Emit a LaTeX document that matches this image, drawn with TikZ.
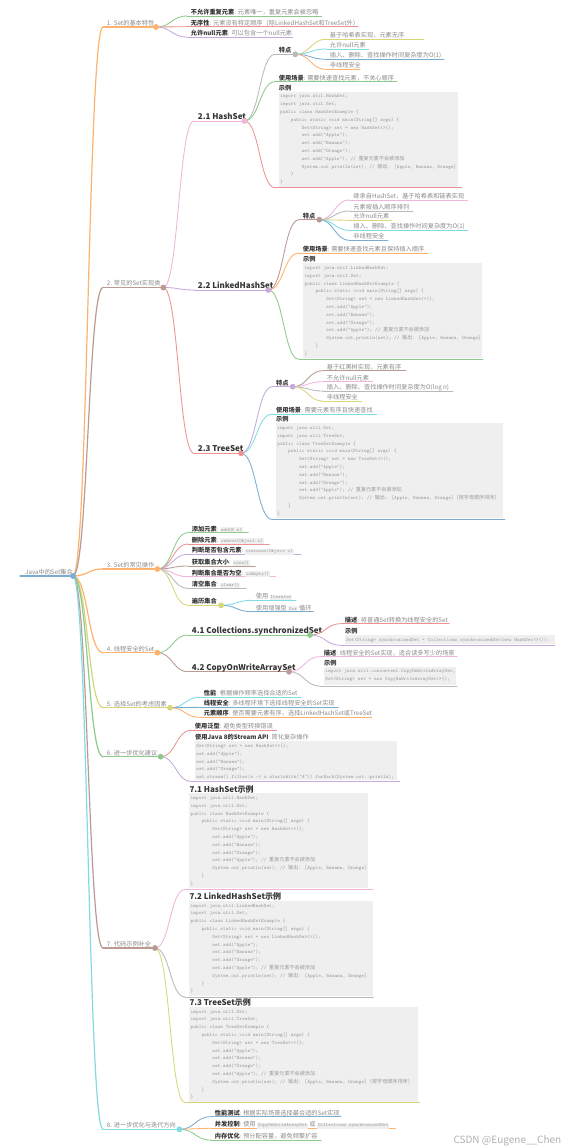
\documentclass[tikz,border=0pt]{standalone}
\usepackage{fontspec}
\setmainfont{Noto Sans CJK SC}
\newfontfamily\cjk{Noto Sans CJK SC}
\usetikzlibrary{calc}
\definecolor{dblue}{HTML}{1F77B4}
\definecolor{dorange}{HTML}{FF7F0E}
\definecolor{dgreen}{HTML}{2CA02C}
\definecolor{dred}{HTML}{D62728}
\definecolor{dpurple}{HTML}{9467BD}
\definecolor{dbrown}{HTML}{8C564B}
\definecolor{dpink}{HTML}{E377C2}
\definecolor{dgray}{HTML}{7F7F7F}
\definecolor{dolive}{HTML}{BCBD22}
\definecolor{dcyan}{HTML}{17BECF}
\colorlet{Cblue}{dblue!60}
\colorlet{Corange}{dorange!60}
\colorlet{Cgreen}{dgreen!55}
\colorlet{Cred}{dred!50}
\colorlet{Cpurple}{dpurple!55}
\colorlet{Cbrown}{dbrown!60}
\colorlet{Cpink}{dpink!55}
\colorlet{Cgray}{dgray!55}
\colorlet{Colive}{dolive!60}
\colorlet{Ccyan}{dcyan!55}
\definecolor{txt}{HTML}{8A8A8A}
\definecolor{txtd}{HTML}{333333}
\definecolor{codebg}{HTML}{EFEFEF}
\definecolor{codetx}{HTML}{9A9A9A}
\definecolor{wmcol}{HTML}{B0B0B0}
\newcommand\codefont{\ttfamily\fontsize{5.1}{7.8}\selectfont}
\newcommand\bl[1]{{\bfseries\color{txtd}#1}}
\newcommand\hd[1]{{\fontsize{8}{9}\selectfont\bfseries\color{txtd}#1}}
\newcommand\zh[1]{{\cjk #1}}
\newcommand\ic[1]{{\setlength\fboxsep{0.8pt}\colorbox{codebg}{\ttfamily\fontsize{4.9}{5}\selectfont\color{codetx}#1}}}
\newcommand\IA{\phantom{xxxx}}
\newcommand\IB{\phantom{xxxxxxxx}}
\newcommand\codeHS{import java.util.HashSet;\\
import java.util.Set;\\
public class HashSetExample \{\\
\IA public static void main(String[] args) \{\\
\IB Set<String> set = new HashSet<>();\\
\IB set.add("Apple");\\
\IB set.add("Banana");\\
\IB set.add("Orange");\\
\IB set.add("Apple"); // \zh{重复元素不会被添加}\\
\IB System.out.println(set); // \zh{输出}: [Apple, Banana, Orange]\\
\IA \}\\
\}}
\newcommand\codeLHS{import java.util.LinkedHashSet;\\
import java.util.Set;\\
public class LinkedHashSetExample \{\\
\IA public static void main(String[] args) \{\\
\IB Set<String> set = new LinkedHashSet<>();\\
\IB set.add("Apple");\\
\IB set.add("Banana");\\
\IB set.add("Orange");\\
\IB set.add("Apple"); // \zh{重复元素不会被添加}\\
\IB System.out.println(set); // \zh{输出}: [Apple, Banana, Orange]\\
\IA \}\\
\}}
\newcommand\codeTS{import java.util.Set;\\
import java.util.TreeSet;\\
public class TreeSetExample \{\\
\IA public static void main(String[] args) \{\\
\IB Set<String> set = new TreeSet<>();\\
\IB set.add("Apple");\\
\IB set.add("Banana");\\
\IB set.add("Orange");\\
\IB set.add("Apple"); // \zh{重复元素不会被添加}\\
\IB System.out.println(set); // \zh{输出}: [Apple, Banana, Orange]\zh{（按字母顺序排序）}\\
\IA \}\\
\}}
\tikzset{
  uline/.style={line width=0.85pt, line cap=round},
  w1/.style={line width=1.2pt},
  circ/.style={line width=0.9pt, fill=white},
  lbl/.style={anchor=base west, inner sep=0pt, font=\fontsize{6.2}{7.5}\selectfont, text=txt},
  code/.style={anchor=north west, inner sep=0pt, align=left, font=\codefont, text=codetx},
  wmk/.style={anchor=base east, inner sep=0pt, font=\fontsize{10}{12}\selectfont, text=wmcol}
}
% underline with named ends
\newcommand\mmu[5]{\coordinate (#1-s) at (#2,#3);\coordinate (#1-e) at (#4,#3);\draw[uline,#5] (#1-s) -- (#1-e);}
% underline + label
\newcommand\mmn[6]{\mmu{#1}{#2}{#3}{#4}{#5}\node[lbl] (#1) at ({#2+3.7},{#3-1.6}) {#6};}
% link parent -> child
\newcommand\mml[3]{\draw[uline,#3] let \p1=(#1-e), \p2=(#2-s) in (\p1) .. controls ({0.5*\x1+0.5*\x2},\y1) and ({0.5*\x1+0.5*\x2},\y2) .. (\p2);}
% circle
\newcommand\mmc[2]{\draw[circ,#2] (#1-e) circle[radius=2.4pt];}
% code box
\newcommand\mmbox[6]{\fill[codebg] (#2,#3) rectangle (#4,#5);\node[code] (#1) at ({#2+1.2},{#3+2.8}) {#6};}
\begin{document}
\begin{tikzpicture}[x=1pt,y=-1pt]
\fill[white] (0,0) rectangle (566,1148);
\useasboundingbox (0,0) rectangle (566,1148);
% root
\mmu{r}{20}{576}{73}{Cblue,w1}
\node[lbl] (r) at (25,574.4) {Java中的Set集合};
% ---------- 1
\mmn{b1}{103}{27}{156}{Corange,w1}{1. Set的基本特性}
\mmn{b1a}{187}{16}{322}{Cgreen}{\bl{不允许重复元素}: 元素唯一，重复元素会被忽略}
\mmn{b1b}{187}{26.7}{358}{Cred}{\bl{无序性}: 元素没有特定顺序（除LinkedHashSet和TreeSet外）}
\mmn{b1c}{187}{37}{293}{Cpurple}{\bl{允许null元素}: 可以包含一个null元素}
% ---------- 2
\mmn{b2}{103}{287.5}{163.3}{Cbrown,w1}{2. 常见的Set实现类}
\mmn{h}{194}{121}{244.3}{Cpink}{\hd{2.1 HashSet}}
\mmn{h1}{275}{54.3}{295.3}{Cgray}{\bl{特点}}
\mmn{h1a}{326}{39.3}{424}{Colive}{基于哈希表实现，元素无序}
\mmn{h1b}{326}{49}{368.7}{Ccyan}{允许null元素}
\mmn{h1c}{326}{59.3}{444}{Cblue}{插入、删除、查找操作时间复杂度为O(1)}
\mmn{h1d}{326}{69.3}{360}{Corange}{非线程安全}
\mmn{h2}{275}{81.7}{397}{Cgreen}{\bl{使用场景}: 需要快速查找元素，不关心顺序}
\mmu{h3}{275}{187.7}{461.7}{Cred}
\node[lbl] (h3) at (278.7,90.7) {\bl{示例}};
\mmbox{h3c}{278.7}{91.7}{457.7}{186.7}{\codeHS}
\mmn{l}{194}{290}{268.3}{Cpurple}{\hd{2.2 LinkedHashSet}}
\mmn{l1}{299}{219.7}{319.3}{Cbrown}{\bl{特点}}
\mmn{l1a}{349.5}{200}{467.3}{Cpink}{继承自HashSet，基于哈希表和链表实现}
\mmn{l1b}{349.5}{211}{413}{Cgray}{元素按插入顺序排列}
\mmn{l1c}{349.5}{220.3}{392}{Colive}{允许null元素}
\mmn{l1d}{349.5}{230.3}{468}{Ccyan}{插入、删除、查找操作时间复杂度为O(1)}
\mmn{l1e}{349.5}{240.3}{388}{Cblue}{非线程安全}
\mmn{l2}{299}{253}{428}{Corange}{\bl{使用场景}: 需要快速查找元素且保持插入顺序}
\mmu{l3}{299}{359.3}{483}{Cgreen}
\node[lbl] (l3) at (303,261.4) {\bl{示例}};
\mmbox{l3c}{303.3}{263.3}{481.7}{358.3}{\codeLHS}
\mmn{t}{194}{453.3}{241}{Cred}{\hd{2.3 TreeSet}}
\mmn{t1}{272.3}{386.7}{292.7}{Cpurple}{\bl{特点}}
\mmn{t1a}{323}{370.7}{406}{Cbrown}{基于红黑树实现，元素有序}
\mmn{t1b}{323}{381.7}{372.7}{Cpink}{不允许null元素}
\mmn{t1c}{323}{391}{453}{Cgray}{插入、删除、查找操作时间复杂度为O(log n)}
\mmn{t1d}{323}{401}{361.7}{Colive}{非线程安全}
\mmn{t2}{272.3}{414}{376.7}{Ccyan}{\bl{使用场景}: 需要元素有序且快速查找}
\mmu{t3}{272.3}{519.5}{505}{Cblue}
\node[lbl] (t3) at (276,421.7) {\bl{示例}};
\mmbox{t3c}{276}{423.3}{503}{518.3}{\codeTS}
% ---------- 3
\mmn{b3}{103}{569}{157.3}{Corange,w1}{3. Set的常见操作}
\mmn{o1}{188}{532.7}{248.3}{Cgreen}{\bl{添加元素}: \ic{add(E e)}}
\mmn{o2}{188}{544}{269.3}{Cred}{\bl{删除元素}: \ic{remove(Object o)}}
\mmn{o3}{188}{554.3}{301}{Cpurple}{\bl{判断是否包含元素}: \ic{contains(Object o)}}
\mmn{o4}{188}{566}{255.3}{Cbrown}{\bl{获取集合大小}: \ic{size()}}
\mmn{o5}{188}{576.7}{275.7}{Cpink}{\bl{判断集合是否为空}: \ic{isEmpty()}}
\mmn{o6}{188}{588.3}{246}{Cgray}{\bl{清空集合}: \ic{clear()}}
\mmn{o7}{188}{605.3}{221}{Colive}{\bl{遍历集合}}
\mmn{o7a}{252}{600.3}{296}{Ccyan}{使用 \ic{Iterator}}
\mmn{o7b}{252}{611.7}{313.3}{Cblue}{使用增强型 \ic{for} 循环}
% ---------- 4
\mmn{b4}{103}{652.7}{157.3}{Corange,w1}{4. 线程安全的Set}
\mmn{s1}{188}{635}{310}{Cgreen}{\hd{4.1 Collections.synchronizedSet}}
\mmn{s1a}{341}{623.7}{449.3}{Cred}{\bl{描述}: 将普通Set转换为线程安全的Set}
\mmu{s1b}{341}{645.3}{555}{Cpurple}
\node[lbl] (s1b) at (345,633.1) {\bl{示例}};
\mmbox{s1bc}{345}{635}{555}{644.3}{Set<String> synchronizedSet = Collections.synchronizedSet(new HashSet<>());}
\mmn{s2}{188}{671.7}{289}{Cbrown}{\hd{4.2 CopyOnWriteArraySet}}
\mmn{s2a}{320}{656.7}{457.3}{Cpink}{\bl{描述}: 线程安全的Set实现，适合读多写少的场景}
\mmu{s2b}{320}{686}{457}{Cgray}
\node[lbl] (s2b) at (324,665.1) {\bl{示例}};
\mmbox{s2bc}{324}{666.7}{456}{685}{import java.util.concurrent.CopyOnWriteArraySet;\\Set<String> set = new CopyOnWriteArraySet<>();}
% ---------- 5
\mmn{b5}{103}{707.7}{170}{Colive,w1}{5. 选择Set的考虑因素}
\mmn{f1}{200}{697.3}{301}{Ccyan}{\bl{性能}: 根据操作频率选择合适的Set}
\mmn{f2}{200}{707.3}{338.3}{Cblue}{\bl{线程安全}: 多线程环境下选择线程安全的Set实现}
\mmn{f3}{200}{717.3}{371.7}{Corange}{\bl{元素顺序}: 是否需要元素有序，选择LinkedHashSet或TreeSet}
% ---------- 6
\mmn{b6}{103}{756.7}{160.7}{Cgreen,w1}{6. 进一步优化建议}
\mmn{g1}{191}{730.3}{276.7}{Cred}{\bl{使用泛型}: 避免类型转换错误}
\mmu{g2}{191}{781.3}{400}{Cpurple}
\node[lbl] (g2) at (195,739.7) {\bl{使用Java 8的Stream API}: 简化复杂操作};
\mmbox{g2c}{195}{741}{396.7}{780.3}{Set<String> set = new HashSet<>();\\set.add("Apple");\\set.add("Banana");\\set.add("Orange");\\set.stream().filter(s -> s.startsWith("A")).forEach(System.out::println);}
% ---------- 7
\mmn{b7}{103}{948}{155}{Cbrown,w1}{7. 代码示例补全}
\mmu{e1}{185}{889.5}{372.7}{Cpink}
\node[lbl] (e1) at (189.3,792.5) {\hd{7.1 HashSet示例}};
\mmbox{e1c}{189.3}{793.3}{368.3}{888.3}{\codeHS}
\mmu{e2}{185}{997}{373.5}{Cgray}
\node[lbl] (e2) at (189.3,899.8) {\hd{7.2 LinkedHashSet示例}};
\mmbox{e2c}{189.3}{901}{372.7}{996}{\codeLHS}
\mmu{e3}{185}{1102.7}{420}{Colive}
\node[lbl] (e3) at (189.3,1005.5) {\hd{7.3 TreeSet示例}};
\mmbox{e3c}{189.3}{1007}{418.3}{1101.7}{\codeTS}
% ---------- 8
\mmn{b8}{103}{1129.3}{179.4}{Ccyan,w1}{8. 进一步优化与迭代方向}
\mmn{p1}{211}{1116.7}{341}{Cblue}{\bl{性能测试}: 根据实际场景选择最合适的Set实现}
\mmn{p2}{211}{1128.2}{395.3}{Corange}{\bl{并发控制}: 使用 \ic{CopyOnWriteArraySet} 或 \ic{Collections.synchronizedSet}}
\mmn{p3}{211}{1140.1}{321.3}{Cgreen}{\bl{内存优化}: 预分配容量，避免频繁扩容}
% ---------- links
\mml{r}{b1}{Corange,w1}
\mml{r}{b2}{Cbrown,w1}
\mml{r}{b3}{Corange,w1}
\mml{r}{b4}{Corange,w1}
\mml{r}{b5}{Colive,w1}
\mml{r}{b6}{Cgreen,w1}
\mml{r}{b7}{Cbrown,w1}
\mml{r}{b8}{Ccyan,w1}
\mml{b1}{b1a}{Cgreen}
\mml{b1}{b1b}{Cred}
\mml{b1}{b1c}{Cpurple}
\mml{b2}{h}{Cpink}
\mml{b2}{l}{Cpurple}
\mml{b2}{t}{Cred}
\mml{h}{h1}{Cgray}
\mml{h}{h2}{Cgreen}
\mml{h}{h3}{Cred}
\mml{h1}{h1a}{Colive}
\mml{h1}{h1b}{Ccyan}
\mml{h1}{h1c}{Cblue}
\mml{h1}{h1d}{Corange}
\mml{l}{l1}{Cbrown}
\mml{l}{l2}{Corange}
\mml{l}{l3}{Cgreen}
\mml{l1}{l1a}{Cpink}
\mml{l1}{l1b}{Cgray}
\mml{l1}{l1c}{Colive}
\mml{l1}{l1d}{Ccyan}
\mml{l1}{l1e}{Cblue}
\mml{t}{t1}{Cpurple}
\mml{t}{t2}{Ccyan}
\mml{t}{t3}{Cblue}
\mml{t1}{t1a}{Cbrown}
\mml{t1}{t1b}{Cpink}
\mml{t1}{t1c}{Cgray}
\mml{t1}{t1d}{Colive}
\mml{b3}{o1}{Cgreen}
\mml{b3}{o2}{Cred}
\mml{b3}{o3}{Cpurple}
\mml{b3}{o4}{Cbrown}
\mml{b3}{o5}{Cpink}
\mml{b3}{o6}{Cgray}
\mml{b3}{o7}{Colive}
\mml{o7}{o7a}{Ccyan}
\mml{o7}{o7b}{Cblue}
\mml{b4}{s1}{Cgreen}
\mml{b4}{s2}{Cbrown}
\mml{s1}{s1a}{Cred}
\mml{s1}{s1b}{Cpurple}
\mml{s2}{s2a}{Cpink}
\mml{s2}{s2b}{Cgray}
\mml{b5}{f1}{Ccyan}
\mml{b5}{f2}{Cblue}
\mml{b5}{f3}{Corange}
\mml{b6}{g1}{Cred}
\mml{b6}{g2}{Cpurple}
\mml{b7}{e1}{Cpink}
\mml{b7}{e2}{Cgray}
\mml{b7}{e3}{Colive}
\mml{b8}{p1}{Cblue}
\mml{b8}{p2}{Corange}
\mml{b8}{p3}{Cgreen}
% ---------- circles
\mmc{r}{Cblue}
\mmc{b1}{Corange}
\mmc{b2}{Cbrown}
\mmc{b3}{Corange}
\mmc{b4}{Corange}
\mmc{b5}{Colive}
\mmc{b6}{Cgreen}
\mmc{b7}{Cbrown}
\mmc{b8}{Ccyan}
\mmc{h}{Cpink}
\mmc{h1}{Cgray}
\mmc{l}{Cpurple}
\mmc{l1}{Cbrown}
\mmc{t}{Cred}
\mmc{t1}{Cpurple}
\mmc{o7}{Colive}
\mmc{s1}{Cgreen}
\mmc{s2}{Cbrown}
% watermark
\node[wmk] (wm) at (561.5,1143.5) {CSDN @Eugene\_\_Chen};
\end{tikzpicture}
\end{document}
